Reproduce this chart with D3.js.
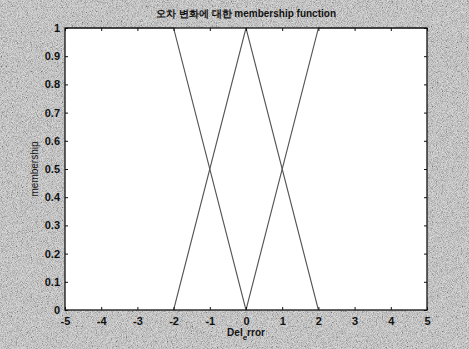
<!DOCTYPE html>
<html>
<head>
<meta charset="utf-8">
<script src="https://cdn.jsdelivr.net/npm/d3@7"></script>
<style>
  html, body { margin: 0; padding: 0; background: #d0d0d0; }
  svg { display: block; }
  .tick text { font-family: 'Liberation Sans', Arial, sans-serif; font-weight: bold; font-size: 11px; fill: #111; }
  .lbl { font-family: 'Liberation Sans', Arial, sans-serif; font-size: 10px; fill: #111; }
</style>
</head>
<body>
<div id="chart"></div>
<script>
// data
const xTicks = [-5, -4, -3, -2, -1, 0, 1, 2, 3, 4, 5];
const yTicks = [0, 0.1, 0.2, 0.3, 0.4, 0.5, 0.6, 0.7, 0.8, 0.9, 1];
const mfNegX = [-5, -2, 0];
const mfNegY = [1, 1, 0];
const mfZeroX = [-2, 0, 2];
const mfZeroY = [0, 1, 0];
const mfPosX = [0, 2, 5];
const mfPosY = [0, 1, 1];
const titleText = '오차 변화에 대한  membership function';

// dimensions
const WIDTH = 469;
const HEIGHT = 349;
const MARGIN_LEFT = 65;
const MARGIN_RIGHT = 42;
const MARGIN_TOP = 28;
const MARGIN_BOTTOM = 39;
const width = WIDTH - MARGIN_LEFT - MARGIN_RIGHT;
const height = HEIGHT - MARGIN_TOP - MARGIN_BOTTOM;

const $svg = d3.select('#chart').append('svg')
  .attr('width', WIDTH)
  .attr('height', HEIGHT);

// scanned halftone look for the background
const defs = $svg.append('defs');
const noise = defs.append('filter').attr('id', 'noise')
  .attr('x', 0).attr('y', 0).attr('width', '100%').attr('height', '100%');
noise.append('feTurbulence')
  .attr('type', 'fractalNoise')
  .attr('baseFrequency', 1.2)
  .attr('numOctaves', 1)
  .attr('seed', 3)
  .attr('result', 'turb');
noise.append('feColorMatrix')
  .attr('in', 'turb')
  .attr('type', 'matrix')
  .attr('values', '1.6 0 0 0 -0.35  1.6 0 0 0 -0.35  1.6 0 0 0 -0.35  0 0 0 0 1');

$svg.append('rect')
  .attr('width', WIDTH)
  .attr('height', HEIGHT)
  .attr('fill', '#d0d0d0');
$svg.append('rect')
  .attr('width', WIDTH)
  .attr('height', HEIGHT)
  .attr('filter', 'url(#noise)')
  .attr('opacity', 0.45);

// scales
const scaleX = d3.scaleLinear().domain([-5, 5]).range([0, width]);
const scaleY = d3.scaleLinear().domain([0, 1]).range([height, 0]);

const $vis = $svg.append('g')
  .attr('transform', `translate(${MARGIN_LEFT}, ${MARGIN_TOP})`);

$vis.append('rect')
  .attr('width', width)
  .attr('height', height)
  .attr('fill', '#fff');

// membership lines
const line = d3.line()
  .x((d) => scaleX(d[0]))
  .y((d) => scaleY(d[1]));

[[mfNegX, mfNegY], [mfZeroX, mfZeroY], [mfPosX, mfPosY]].forEach(([xs, ys]) => {
  $vis.append('path')
    .datum(xs.map((x, i) => [x, ys[i]]))
    .attr('d', line)
    .attr('fill', 'none')
    .attr('stroke', '#555')
    .attr('stroke-width', 1.1);
});

// axes (matlab style: ticks inside, on all sides)
const numFormat = (d) => String(d);
$vis.append('g')
  .attr('transform', `translate(0, ${height})`)
  .call(d3.axisBottom(scaleX).tickValues(xTicks).tickSize(-3).tickPadding(7).tickFormat(numFormat))
  .call((g) => g.select('.domain').remove());
$vis.append('g')
  .call(d3.axisTop(scaleX).tickValues(xTicks).tickSize(-3).tickFormat(''))
  .call((g) => g.select('.domain').remove());
$vis.append('g')
  .call(d3.axisLeft(scaleY).tickValues(yTicks).tickSize(-3).tickPadding(5).tickFormat(numFormat))
  .call((g) => g.select('.domain').remove());
$vis.append('g')
  .attr('transform', `translate(${width}, 0)`)
  .call(d3.axisRight(scaleY).tickValues(yTicks).tickSize(-3).tickFormat(''))
  .call((g) => g.select('.domain').remove());

$vis.selectAll('.tick line').attr('stroke', '#111');

// frame
$vis.append('rect')
  .attr('width', width)
  .attr('height', height)
  .attr('fill', 'none')
  .attr('stroke', '#111')
  .attr('stroke-width', 1.3);

// labels
$svg.append('text')
  .attr('class', 'lbl')
  .attr('x', MARGIN_LEFT + width / 2)
  .attr('y', 17)
  .attr('text-anchor', 'middle')
  .attr('font-weight', 'bold')
  .text(titleText);

const xLabel = $svg.append('text')
  .attr('class', 'lbl')
  .attr('x', MARGIN_LEFT + width / 2)
  .attr('y', 336)
  .attr('text-anchor', 'middle')
  .attr('font-weight', 'bold');
xLabel.append('tspan').text('Del');
xLabel.append('tspan').attr('dy', 4).attr('font-size', 8).text('e');
xLabel.append('tspan').attr('dy', -4).text('rror');

$svg.append('text')
  .attr('class', 'lbl')
  .attr('transform', `translate(38, ${MARGIN_TOP + height / 2}) rotate(-90)`)
  .attr('text-anchor', 'middle')
  .text('membership');
</script>
</body>
</html>
